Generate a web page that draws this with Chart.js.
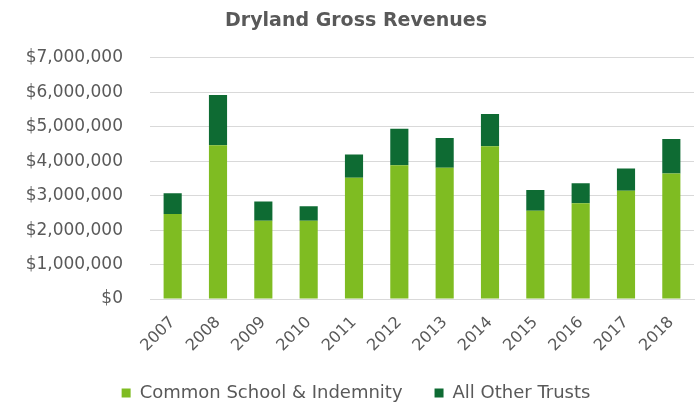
<!DOCTYPE html>
<html>
<head>
<meta charset="utf-8">
<script src="https://cdn.jsdelivr.net/npm/chart.js@4"></script>
<style>
  html, body { margin: 0; padding: 0; background: #fff; }
  #wrap { width: 700px; height: 404px; }
</style>
</head>
<body>
<div id="wrap"><canvas id="revChart" width="700" height="404"></canvas></div>
<script>
// Years on the x axis
const years = ['2007', '2008', '2009', '2010', '2011', '2012', '2013', '2014', '2015', '2016', '2017', '2018'];
// Common School & Indemnity (bottom segment)
const commonSchool = [2470000, 4460000, 2270000, 2270000, 3520000, 3880000, 3810000, 4430000, 2560000, 2780000, 3140000, 3640000];
// All Other Trusts (top segment)
const otherTrusts = [600000, 1460000, 560000, 420000, 670000, 1060000, 860000, 940000, 600000, 580000, 650000, 1000000];

const textGrey = '#595959';
const font = 'DejaVu Sans, Verdana, sans-serif';

const ctx = document.getElementById('revChart').getContext('2d');
new Chart(ctx, {
    type: 'bar',
    data: {
        labels: years,
        datasets: [
            {
                label: 'Common School & Indemnity',
                data: commonSchool,
                backgroundColor: '#7fbc22',
                barPercentage: 0.4,
                categoryPercentage: 1.0
            },
            {
                label: 'All Other Trusts',
                data: otherTrusts,
                backgroundColor: '#0e6b33',
                barPercentage: 0.4,
                categoryPercentage: 1.0
            }
        ]
    },
    options: {
        responsive: false,
        animation: false,
        layout: {
            padding: { left: 18, right: 6, top: 0, bottom: -8 }
        },
        plugins: {
            title: {
                display: true,
                text: 'Dryland Gross Revenues',
                color: textGrey,
                font: { family: font, size: 19, weight: 'bold' },
                padding: { top: 10, bottom: 25 }
            },
            legend: {
                position: 'bottom',
                labels: {
                    color: textGrey,
                    font: { family: font, size: 18 },
                    boxWidth: 9,
                    boxHeight: 9,
                    padding: 32
                }
            },
            tooltip: { enabled: false }
        },
        scales: {
            x: {
                stacked: true,
                grid: { display: false, drawTicks: false },
                border: { color: '#d9d9d9' },
                ticks: {
                    color: textGrey,
                    font: { family: font, size: 16 },
                    minRotation: 45,
                    maxRotation: 45,
                    padding: 14
                },
                afterFit: s => { s.height = 53; }
            },
            y: {
                stacked: true,
                min: 0,
                max: 7000000,
                grid: { color: '#d9d9d9', drawTicks: false },
                border: { display: false },
                ticks: {
                    stepSize: 1000000,
                    color: textGrey,
                    font: { family: font, size: 17 },
                    padding: 27,
                    callback: v => '$' + v.toLocaleString('en-US')
                },
                afterFit: s => { s.width = 132; }
            }
        }
    }
});
</script>
</body>
</html>
